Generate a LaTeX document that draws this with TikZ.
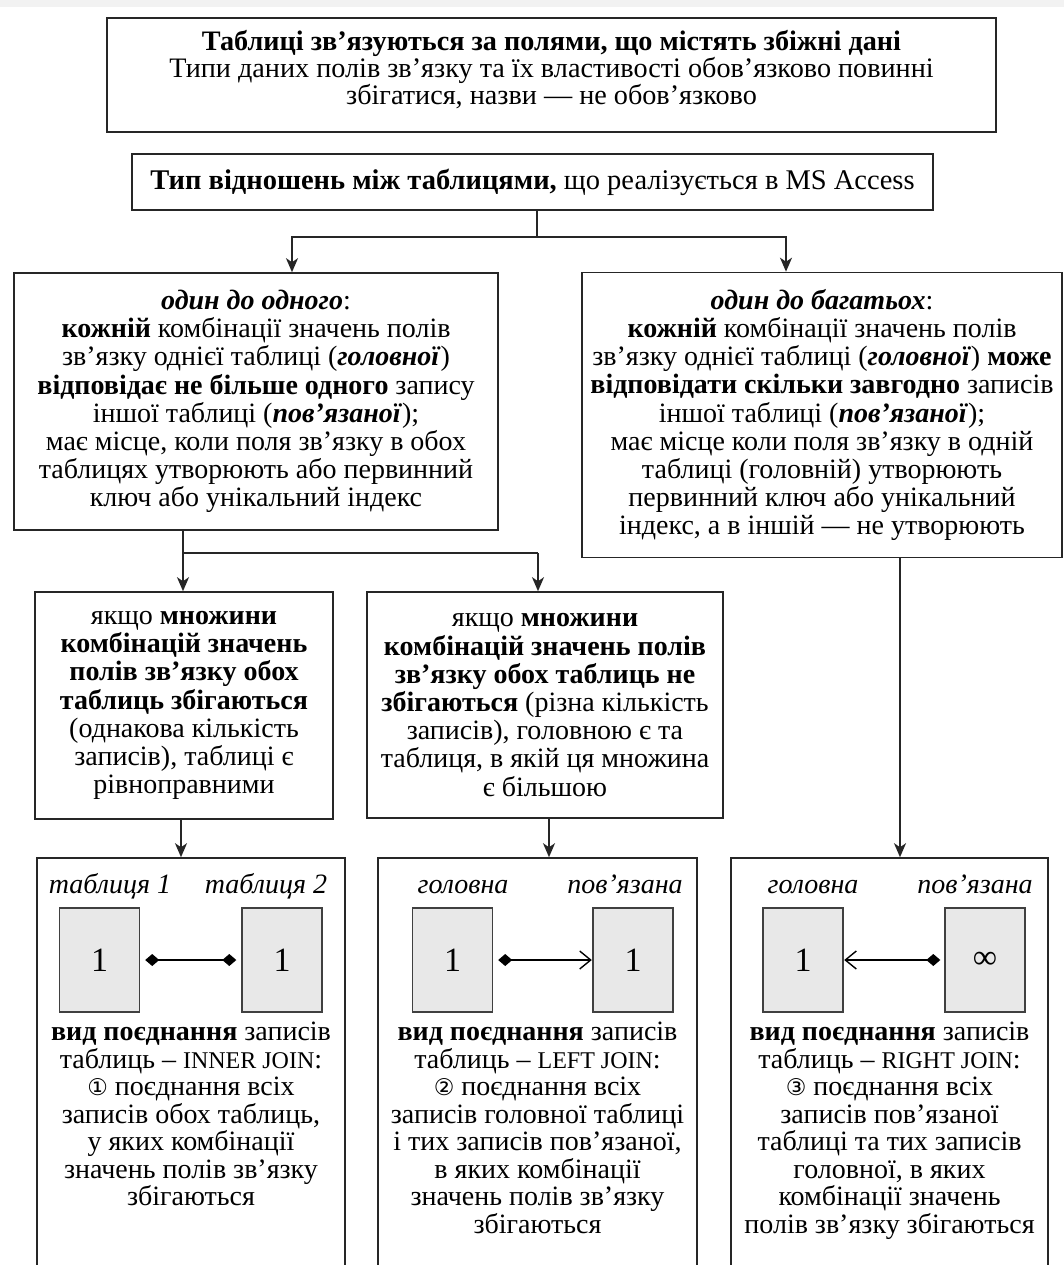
\documentclass[tikz,border=0pt]{standalone}
\usepackage{fontspec}
\setmainfont{Liberation Serif}
\newfontfamily\circfont{DejaVu Sans}
\usetikzlibrary{arrows.meta}
\begin{document}
\begin{tikzpicture}[x=1pt,y=-1pt,
  box/.style={draw=black!85, line width=1.6pt, inner sep=0pt, align=center, font=\fontsize{28}{28.2}\selectfont},
  txt/.style={align=center, inner sep=0pt, font=\fontsize{28}{27.5}\selectfont},
  arr/.style={line width=1.6pt, draw=black!85, -{Stealth[length=14pt,width=12pt,inset=4pt]}},
  ln/.style={line width=1.6pt, draw=black!85},
  tbl/.style={draw=black!75, fill=black!9, line width=1.4pt, minimum width=80pt, minimum height=104pt, inner sep=0pt, font=\fontsize{34}{34}\selectfont},
  lbl/.style={inner sep=0pt, anchor=base, font=\fontsize{28}{28}\selectfont\itshape},
  lnk/.style={line width=1.5pt, draw=black}]
\path[use as bounding box] (0,0) rectangle (1064,1265);
\fill[black!5] (0,0) rectangle (1064,7);

% top boxes
\node[box, minimum width=889pt, minimum height=114pt] (b1) at (551.5,75) {};
\node[txt, font=\fontsize{28.2}{27}\selectfont] (b1t) at (551.5,70)
 {\textbf{Таблиці зв’язуються за полями, що містять збіжні дані}\\
  Типи даних полів зв’язку та їх властивості обов’язково повинні\\
  збігатися, назви — не обов’язково};
\node[box, minimum width=801pt, minimum height=56pt, font=\fontsize{28.5}{28}\selectfont] (b2) at (532.5,182)
 {\textbf{Тип відношень між таблицями,} що реалізується в MS Access};

% second level
\node[box, minimum width=484pt, minimum height=257pt] (o2o) at (256,401.5)
 {\textbf{\textit{один до одного}}:\\
  \textbf{кожній} комбінації значень полів\\
  зв’язку однієї таблиці (\textbf{\textit{головної}})\\
  \textbf{відповідає не більше одного} запису\\
  іншої таблиці (\textbf{\textit{пов’язаної}});\\
  має місце, коли поля зв’язку в обох\\
  таблицях утворюють або первинний\\
  ключ або унікальний індекс};
\node[box, minimum width=480pt, minimum height=285pt] (o2m) at (822,415)
 {\textbf{\textit{один до багатьох}}:\\
  \textbf{кожній} комбінації значень полів\\
  зв’язку однієї таблиці (\textbf{\textit{головної}}) \textbf{може}\\
  \textbf{відповідати скільки завгодно} записів\\
  іншої таблиці (\textbf{\textit{пов’язаної}});\\
  має місце коли поля зв’язку в одній\\
  таблиці (головній) утворюють\\
  первинний ключ або унікальний\\
  індекс, а в іншій — не утворюють};

% third level
\node[box, minimum width=298pt, minimum height=227pt] (bA) at (184,705.5)
 {якщо \textbf{множини}\\
  \textbf{комбінацій значень}\\
  \textbf{полів зв’язку обох}\\
  \textbf{таблиць збігаються}\\
  (однакова кількість\\
  записів), таблиці є\\
  рівноправними};
\node[box, minimum width=356pt, minimum height=226pt] (bB) at (545,705)
 {якщо \textbf{множини}\\
  \textbf{комбінацій значень полів}\\
  \textbf{зв’язку обох таблиць не}\\
  \textbf{збігаються} (різна кількість\\
  записів), головною є та\\
  таблиця, в якій ця множина\\
  є більшою};

% bottom boxes (open at the bottom edge of the page)
\node[box, minimum width=308pt, minimum height=417pt] (cL) at (191,1066.5) {};
\node[box, minimum width=319pt, minimum height=417pt] (cM) at (537.5,1066.5) {};
\node[box, minimum width=317pt, minimum height=417pt] (cR) at (889.5,1066.5) {};

% connectors
\coordinate (j1) at (537,237);
\coordinate (j1L) at (292,237);
\coordinate (j1R) at (786,237);
\draw[ln] (j1 |- b2.south) -- (j1);
\draw[arr] (j1) -- (j1L) -- (j1L |- o2o.north);
\draw[arr] (j1) -- (j1R) -- (j1R |- o2m.north);

\coordinate (j2) at (183,553);
\coordinate (j2R) at (538,553);
\draw[ln] (j2 |- o2o.south) -- (j2) -- (j2R);
\draw[arr] (j2) -- (j2 |- bA.north);
\draw[arr] (j2R) -- (j2R |- bB.north);

\coordinate (k1) at (181,0);
\coordinate (k2) at (549,0);
\coordinate (k3) at (900,0);
\draw[arr] (k1 |- bA.south) -- (k1 |- cL.north);
\draw[arr] (k2 |- bB.south) -- (k2 |- cM.north);
\draw[arr] (k3 |- o2m.south) -- (k3 |- cR.north);

% bottom-left content
\node[lbl] (lL1) at (110,893) {таблиця 1};
\node[lbl] (lL2) at (266,893) {таблиця 2};
\node[tbl] (tL1) at (99.5,960) {1};
\node[tbl] (tL2) at (282,960) {1};
\draw[lnk, {Diamond[length=14pt,width=12pt]}-{Diamond[length=14pt,width=12pt]}, shorten <=5pt, shorten >=5pt] (tL1.east) -- (tL2.west);
\node[txt, anchor=north] (xL) at (191,1022)
 {\textbf{вид поєднання} записів\\
  таблиць – {\fontsize{24}{27.5}\selectfont INNER JOIN}:\\
  {\circfont\fontsize{23}{27.5}\selectfont ①} поєднання всіх\\
  записів обох таблиць,\\
  у яких комбінації\\
  значень полів зв’язку\\
  збігаються};

% bottom-middle content
\node[lbl] (lM1) at (463,893) {головна};
\node[lbl] (lM2) at (625,893) {пов’язана};
\node[tbl] (tM1) at (452.5,960) {1};
\node[tbl] (tM2) at (633,960) {1};
\draw[lnk, {Diamond[length=14pt,width=12pt]}-{Straight Barb[length=11pt,width=18pt,line width=1.4pt]}, shorten <=5pt, shorten >=0.5pt] (tM1.east) -- (tM2.west);
\node[txt, anchor=north] (xM) at (537.5,1022)
 {\textbf{вид поєднання} записів\\
  таблиць – {\fontsize{24}{27.5}\selectfont LEFT JOIN}:\\
  {\circfont\fontsize{23}{27.5}\selectfont ②} поєднання всіх\\
  записів головної таблиці\\
  і тих записів пов’язаної,\\
  в яких комбінації\\
  значень полів зв’язку\\
  збігаються};

% bottom-right content
\node[lbl] (lR1) at (813,893) {головна};
\node[lbl] (lR2) at (975,893) {пов’язана};
\node[tbl] (tR1) at (803,960) {1};
\node[tbl] (tR2) at (985,960) {∞};
\draw[lnk, {Straight Barb[length=11pt,width=18pt,line width=1.4pt]}-{Diamond[length=14pt,width=12pt]}, shorten <=0.5pt, shorten >=4pt] (tR1.east) -- (tR2.west);
\node[txt, anchor=north] (xR) at (889.5,1022)
 {\textbf{вид поєднання} записів\\
  таблиць – {\fontsize{24}{27.5}\selectfont RIGHT JOIN}:\\
  {\circfont\fontsize{23}{27.5}\selectfont ③} поєднання всіх\\
  записів пов’язаної\\
  таблиці та тих записів\\
  головної, в яких\\
  комбінації значень\\
  полів зв’язку збігаються};
\end{tikzpicture}
\end{document}
